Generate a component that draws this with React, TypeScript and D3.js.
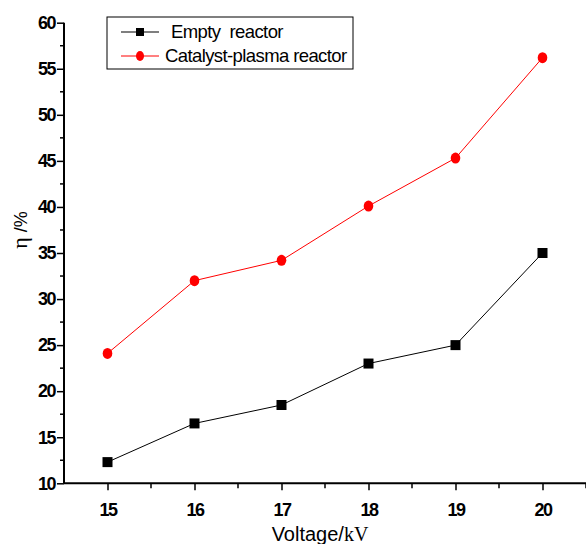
import { useEffect, useRef } from 'react';
import * as d3 from 'd3';

const voltages = [15, 16, 17, 18, 19, 20];
const emptyReactor = [12.3, 16.5, 18.5, 23, 25, 35];
const catalystPlasma = [24.1, 32, 34.2, 40.1, 45.3, 56.2];
const yTicks = [10, 15, 20, 25, 30, 35, 40, 45, 50, 55, 60];
const xTicks = [15, 16, 17, 18, 19, 20];
const seriesNames = ['Empty  reactor', 'Catalyst-plasma reactor'];

const App = () => {
  const svgRef = useRef<SVGSVGElement>(null);

  useEffect(() => {
    const width = 586;
    const height = 544;
    const left = 64;
    const right = 586;
    const top = 22.7;
    const bottom = 483.3;

    const svg = d3.select(svgRef.current).attr('width', width).attr('height', height);
    svg.selectAll('*').remove();

    const x = d3.scaleLinear().domain([14.5, 20.5]).range([left, right]);
    const y = d3.scaleLinear().domain([10, 60]).range([bottom, top]);
    const font = 'Liberation Sans, Arial, sans-serif';

    const styleTicks = (g: any) =>
      g
        .selectAll('.tick text')
        .style('font-family', font)
        .style('font-size', '18px')
        .style('font-weight', 'bold')
        .style('letter-spacing', '-1.5px')
        .attr('fill', '#000');

    // y axis
    const yAxis = d3
      .axisLeft(y)
      .tickValues(yTicks)
      .tickSize(7)
      .tickPadding(2)
      .tickFormat((d) => String(d));
    const gy = svg.append('g').attr('transform', `translate(${left},0)`).call(yAxis);
    gy.select('.domain').attr('stroke-width', 2).attr('d', `M0,${top}V${bottom}`);
    gy.selectAll('.tick line').attr('stroke-width', 1.5);
    styleTicks(gy);
    const yMinor = d3.range(12.5, 60, 5);
    svg
      .append('g')
      .selectAll('line')
      .data(yMinor)
      .enter()
      .append('line')
      .attr('x1', left - 4)
      .attr('x2', left)
      .attr('y1', (d) => y(d))
      .attr('y2', (d) => y(d))
      .attr('stroke', '#000')
      .attr('stroke-width', 1.5);

    // x axis
    const xAxis = d3
      .axisBottom(x)
      .tickValues(xTicks)
      .tickSize(7)
      .tickPadding(13)
      .tickFormat((d) => String(d));
    const gx = svg.append('g').attr('transform', `translate(0,${bottom})`).call(xAxis);
    gx.select('.domain').attr('stroke-width', 2).attr('d', `M${left},0H${right}`);
    gx.selectAll('.tick line').attr('stroke-width', 1.5);
    styleTicks(gx);
    const xMinor = d3.range(15.5, 20.6, 1);
    svg
      .append('g')
      .selectAll('line')
      .data(xMinor)
      .enter()
      .append('line')
      .attr('x1', (d) => x(d))
      .attr('x2', (d) => x(d))
      .attr('y1', bottom)
      .attr('y2', bottom + 5)
      .attr('stroke', '#000')
      .attr('stroke-width', 1.5);

    // axis titles
    const xt = svg
      .append('text')
      .attr('x', 320)
      .attr('y', 541)
      .attr('text-anchor', 'middle')
      .attr('font-size', 20)
      .attr('fill', '#000');
    xt.append('tspan').attr('font-family', font).text('Voltage/');
    xt.append('tspan').attr('font-family', 'Liberation Serif, serif').text('kV');

    const yt = svg
      .append('text')
      .attr('transform', `translate(27,${y(37.5)}) rotate(-90)`)
      .attr('text-anchor', 'middle')
      .attr('font-size', 20)
      .attr('fill', '#000');
    yt.append('tspan').attr('font-family', 'Liberation Serif, serif').attr('font-size', 22).text('η');
    yt.append('tspan').attr('font-family', font).attr('font-size', 18).text(' /%');

    const line = d3
      .line<number>()
      .x((_, i) => x(voltages[i]))
      .y((d) => y(d));

    // empty reactor
    svg
      .append('path')
      .attr('d', line(emptyReactor))
      .attr('fill', 'none')
      .attr('stroke', '#000')
      .attr('stroke-width', 1);
    svg
      .append('g')
      .selectAll('rect')
      .data(emptyReactor)
      .enter()
      .append('rect')
      .attr('x', (_, i) => x(voltages[i]) - 5)
      .attr('y', (d) => y(d) - 5)
      .attr('width', 10)
      .attr('height', 10)
      .attr('fill', '#000');

    // catalyst-plasma reactor
    svg
      .append('path')
      .attr('d', line(catalystPlasma))
      .attr('fill', 'none')
      .attr('stroke', '#ff0000')
      .attr('stroke-width', 1);
    svg
      .append('g')
      .selectAll('ellipse')
      .data(catalystPlasma)
      .enter()
      .append('ellipse')
      .attr('cx', (_, i) => x(voltages[i]))
      .attr('cy', (d) => y(d))
      .attr('rx', 4.8)
      .attr('ry', 5.5)
      .attr('fill', '#ff0000');

    // legend
    const lg = svg.append('g');
    lg.append('rect')
      .attr('x', 107)
      .attr('y', 17)
      .attr('width', 246)
      .attr('height', 52)
      .attr('fill', '#fff')
      .attr('stroke', '#000')
      .attr('stroke-width', 1);
    const rows = [32, 56];
    lg.append('line').attr('x1', 121).attr('x2', 159).attr('y1', rows[0]).attr('y2', rows[0]).attr('stroke', '#555').attr('stroke-width', 1.5);
    lg.append('rect').attr('x', 136).attr('y', rows[0] - 4).attr('width', 8).attr('height', 8).attr('fill', '#000');
    lg.append('line').attr('x1', 121).attr('x2', 159).attr('y1', rows[1]).attr('y2', rows[1]).attr('stroke', '#ff0000').attr('stroke-width', 1);
    lg.append('ellipse').attr('cx', 140).attr('cy', rows[1]).attr('rx', 4).attr('ry', 5).attr('fill', '#ff0000');
    seriesNames.forEach((name, i) => {
      lg.append('text')
        .attr('x', i === 0 ? 171 : 165)
        .attr('y', rows[i] + 6)
        .attr('font-family', font)
        .attr('font-size', 18.5)
        .attr('letter-spacing', -0.6)
        .attr('fill', '#000')
        .style('white-space', 'pre')
        .text(name);
    });
  }, []);

  return (
    <div style={{ position: 'absolute', left: 0, top: 0 }}>
      <svg ref={svgRef}></svg>
    </div>
  );
};

export default App;
